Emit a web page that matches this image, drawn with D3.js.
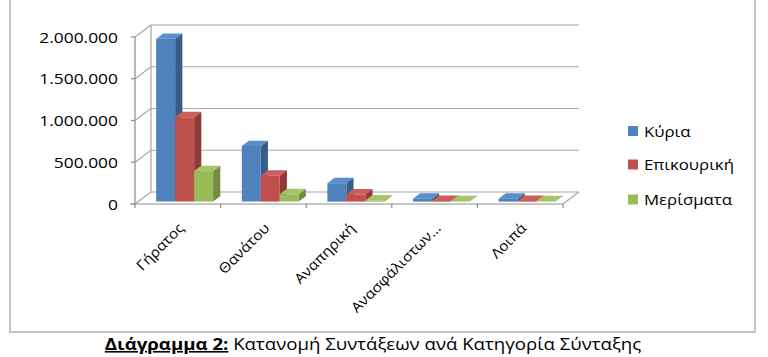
<!DOCTYPE html>
<html>
<head>
<meta charset="utf-8">
<script src="https://cdn.jsdelivr.net/npm/d3@7"></script>
<style>
  html, body { margin: 0; padding: 0; background: #fff; }
  svg { display: block; }
  text { font-family: "Open Sans", "Noto Sans", sans-serif; fill: #000; }
</style>
</head>
<body>
<svg id="chart" width="768" height="357"></svg>
<script>
// ---- data ----
const categories = ["Γήρατος", "Θανάτου", "Αναπηρική", "Ανασφάλιστων…", "Λοιπά"];
const seriesNames = ["Κύρια", "Επικουρική", "Μερίσματα"];
const kyria      = [1950000, 665000, 220000, 35000, 35000];
const epikouriki = [1010000, 310000, 85000, 8000, 8000];
const merismata  = [365000, 88000, 14000, 4000, 4000];
const yTicks = [0, 500000, 1000000, 1500000, 2000000];
const captionBold = "Διάγραμμα 2:";
const captionText = " Κατανομή Συντάξεων ανά Κατηγορία Σύνταξης";

const seriesValues = [kyria, epikouriki, merismata];
const colors = {
  front: ["#4F81BD", "#C0504D", "#9BBB59"],
  side:  ["#385D8A", "#8E3A38", "#728C42"],
  top:   ["#5B8DCB", "#CC5E5B", "#A6C567"]
};

const svg = d3.select("#chart");

// frame
svg.append("rect").attr("x", 10).attr("y", -4).attr("width", 745).attr("height", 336)
  .attr("fill", "#fff").attr("stroke", "#c4c4c4").attr("stroke-width", 2);

// scales (front plane)
const x = d3.scaleBand().domain(categories).range([135, 563]);
const y = d3.scaleLinear().domain([0, 2000000]).range([204, 37]);
const DX = 16, DY = -12; // full depth offset
const P = (px, v, z) => [px + z * DX, y(v) + z * DY];

const gridColor = "#a6a6a6";
const g = svg.append("g");

// back wall gridlines
yTicks.forEach(t => {
  const a = P(x.range()[0], t, 1), b = P(x.range()[1], t, 1);
  g.append("line").attr("x1", a[0]).attr("y1", a[1]).attr("x2", b[0]).attr("y2", b[1])
    .attr("stroke", gridColor).attr("stroke-width", 1.2);
  const c = P(x.range()[0], t, 0);
  g.append("line").attr("x1", c[0]).attr("y1", c[1]).attr("x2", a[0]).attr("y2", a[1])
    .attr("stroke", gridColor).attr("stroke-width", 1.2);
});
{
  const a = P(x.range()[0], 0, 1), b = P(x.range()[0], 2000000, 1);
  g.append("line").attr("x1", a[0]).attr("y1", a[1]).attr("x2", b[0]).attr("y2", b[1])
    .attr("stroke", gridColor).attr("stroke-width", 1.2);
}
{
  const a = P(x.range()[1], 0, 0), b = P(x.range()[1], 0, 1);
  g.append("line").attr("x1", a[0]).attr("y1", a[1]).attr("x2", b[0]).attr("y2", b[1])
    .attr("stroke", gridColor).attr("stroke-width", 1.2);
}

// front vertical axis
g.append("line").attr("x1", 135).attr("x2", 135).attr("y1", y(2000000)).attr("y2", y(0))
  .attr("stroke", "#8c8c8c").attr("stroke-width", 1.2);
yTicks.forEach(t => {
  g.append("line").attr("x1", 131).attr("x2", 135).attr("y1", y(t)).attr("y2", y(t))
    .attr("stroke", "#8c8c8c").attr("stroke-width", 1.2);
  g.append("text")
    .attr("transform", `translate(118,${y(t)}) scale(1.16,1)`)
    .attr("text-anchor", "end").attr("dominant-baseline", "central")
    .attr("font-size", 15)
    .text(d3.format(",")(t).replace(/,/g, "."));
});

// x axis line and ticks
g.append("line").attr("x1", 130).attr("x2", 563).attr("y1", y(0)).attr("y2", y(0))
  .attr("stroke", "#8c8c8c").attr("stroke-width", 1.2);
const tickXs = categories.map(c => x(c)).concat([x.range()[1]]);
tickXs.forEach(tx => {
  g.append("line").attr("x1", tx).attr("x2", tx).attr("y1", y(0)).attr("y2", y(0) + 4)
    .attr("stroke", "#8c8c8c").attr("stroke-width", 1.2);
});

// bars
const sub = d3.scaleBand().domain(seriesNames).range([x.bandwidth() * 0.21, x.bandwidth() * 0.875]);
const z0 = 0.2, z1 = 0.65;
const poly = pts => pts.map(p => p.join(",")).join(" ");
categories.forEach((cat, ci) => {
  seriesNames.forEach((s, si) => {
    const v = seriesValues[si][ci];
    const xl = x(cat) + sub(s), xr = xl + sub.bandwidth();
    const fbl = P(xl, 0, z0), fbr = P(xr, 0, z0), ftl = P(xl, v, z0), ftr = P(xr, v, z0);
    const bbr = P(xr, 0, z1), btl = P(xl, v, z1), btr = P(xr, v, z1);
    g.append("polygon").attr("points", poly([fbr, ftr, btr, bbr])).attr("fill", colors.side[si]);
    g.append("polygon").attr("points", poly([ftl, ftr, btr, btl])).attr("fill", colors.top[si]);
    g.append("polygon").attr("points", poly([fbl, fbr, ftr, ftl])).attr("fill", colors.front[si]);
  });
});

// category labels
categories.forEach(cat => {
  const cx = x(cat) + x.bandwidth() / 2 + 7;
  g.append("text")
    .attr("transform", `translate(${cx},229) rotate(-45) scale(1.1,1)`)
    .attr("text-anchor", "end")
    .attr("font-size", 14)
    .text(cat);
});

// legend
const legY = [131, 164.5, 199.5];
seriesNames.forEach((s, i) => {
  g.append("rect").attr("x", 628).attr("y", legY[i] - 5).attr("width", 10).attr("height", 10)
    .attr("fill", colors.front[i]);
  g.append("text")
    .attr("transform", `translate(644,${legY[i]}) scale(1.12,1)`)
    .attr("dominant-baseline", "central")
    .attr("font-size", 15)
    .text(s);
});

// caption
const cap = svg.append("text")
  .attr("transform", `translate(373,350) scale(1.13,1)`)
  .attr("text-anchor", "middle").attr("font-size", 16.5);
cap.append("tspan").attr("font-weight", "bold").attr("text-decoration", "underline").text(captionBold);
cap.append("tspan").text(captionText);
</script>
</body>
</html>
